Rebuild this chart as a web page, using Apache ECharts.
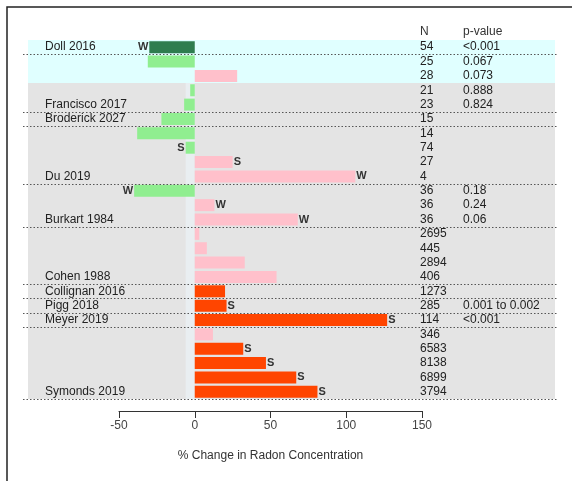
<!DOCTYPE html>
<html>
<head>
<meta charset="utf-8">
<script src="https://cdn.jsdelivr.net/npm/echarts@6/dist/echarts.min.js"></script>
<style>html,body{margin:0;padding:0;background:#fff}#c{width:572px;height:481px}</style>
</head>
<body>
<div id="c"></div>
<script>
// ---- data ----
const studies = ['Doll 2016','','','','Francisco 2017','Broderick 2027','','','','Du 2019','','','Burkart 1984','','','','Cohen 1988','Collignan 2016','Pigg 2018','Meyer 2019','','','','','Symonds 2019'];
const nValues = ['54','25','28','21','23','15','14','74','27','4','36','36','36','2695','445','2894','406','1273','285','114','346','6583','8138','6899','3794'];
const pValues = ['<0.001','0.067','0.073','0.888','0.824','','','','','','0.18','0.24','0.06','','','','','','0.001 to 0.002','<0.001','','','','',''];
const changes = [-30,-31,28,-3,-7,-22,-38,-6,25,106,-40,13,68,3,8,33,54,20,21,127,12,32,47,67,81];
const markers = ['W','','','','','','','S','S','W','W','W','W','','','','','','S','S','','S','S','S','S'];
const effect  = ['sigDec','dec','inc','dec','dec','dec','dec','dec','inc','inc','dec','inc','inc','inc','inc','inc','inc','sigInc','sigInc','sigInc','inc','sigInc','sigInc','sigInc','sigInc'];
const xTicks = {min:-50, max:150, interval:50};
const highlightRowCount = 3; // first study block (cyan band)

// ---- styling ----
const colorMap = {sigDec:'#2e7d4f', dec:'#90ee90', inc:'#ffc0cb', sigInc:'#ff4500'};
const FONT = 'Liberation Sans, Arial, sans-serif';
const gridL = 28, gridR = 555, axisL = 119, axisR = 422, gridTop = 40, rowH = 14.36;
const k = (axisR - axisL) / (xTicks.max - xTicks.min);
const fullMin = xTicks.min - (axisL - gridL) / k;
const fullMax = xTicks.max + (gridR - axisR) / k;
const zeroPx = axisL + (0 - xTicks.min) * k;
const nRows = studies.length;

// separator positions (below each labelled study row)
const boundaries = [];
studies.forEach((s, i) => { if (s) boundaries.push(i + 0.5); });

const chart = echarts.init(document.getElementById('c'), null, {renderer:'canvas'});
const catAxis = (data, offset, margin) => ({
  type:'category', gridIndex:0, data:data, inverse:true, position:'left', offset:offset, z:10,
  axisLine:{show:false}, axisTick:{show:false}, splitLine:{show:false},
  axisLabel:{inside:true, margin:margin, interval:0, fontSize:12, color:'#222', fontFamily:FONT, align:'left'}
});
const hidden = (gi) => ({type:'value', gridIndex:gi, show:false, min:0, max:1});

chart.setOption({
  animation:false,
  textStyle:{fontFamily:FONT},
  grid:[
    {left:gridL, width:gridR-gridL, top:gridTop, height:rowH*nRows, show:true, backgroundColor:'#e4e4e4', borderWidth:0},
    {left:axisL, width:axisR-axisL, top:410, height:1, show:false},
    {left:gridL, width:gridR-gridL, top:gridTop, height:rowH*highlightRowCount, show:true, backgroundColor:'#e0ffff', borderWidth:0},
    {left:zeroPx-9, width:9, top:gridTop+rowH*highlightRowCount, height:rowH*(nRows-highlightRowCount), show:true, backgroundColor:'#e9eef1', borderWidth:0}
  ],
  xAxis:[
    {type:'value', gridIndex:0, min:fullMin, max:fullMax, show:false},
    {type:'value', gridIndex:1, min:xTicks.min, max:xTicks.max, interval:xTicks.interval,
     axisLine:{show:true, lineStyle:{color:'#333', width:1}},
     axisTick:{show:true, length:7, lineStyle:{color:'#333'}},
     axisLabel:{fontSize:12, color:'#444', margin:9, fontFamily:FONT},
     splitLine:{show:false},
     name:'% Change in Radon Concentration', nameLocation:'middle', nameGap:39,
     nameTextStyle:{fontSize:12, color:'#333', fontFamily:FONT}},
    hidden(2), hidden(3)
  ],
  yAxis:[
    catAxis(studies, 0, 17),
    catAxis(nValues, -(420-gridL), 0),
    catAxis(pValues, -(463-gridL), 0),
    hidden(1), hidden(2), hidden(3),
    {type:'value', gridIndex:0, min:-0.5, max:nRows-0.5, inverse:true, show:false}
  ],
  series:[
    {
      type:'bar', xAxisIndex:0, yAxisIndex:0, z:2, barWidth:12,
      data:changes.map((v,i)=>({value:v, label:{position: v<0 ? 'left' : 'right'}})),
      itemStyle:{color:p=>colorMap[effect[p.dataIndex]]},
      label:{show:true, distance:1, formatter:p=>markers[p.dataIndex], fontSize:11, fontWeight:'bold', color:'#333', fontFamily:FONT}
    },
    {
      type:'custom', xAxisIndex:0, yAxisIndex:6, z:20, silent:true, clip:false,
      encode:{x:0, y:1},
      data:boundaries.map(b=>[0, b]),
      renderItem:(params, api)=>{
        const cs = params.coordSys;
        const y = Math.round(api.coord([0, api.value(1)])[1]) + 0.5;
        return {type:'line', shape:{x1:cs.x - 5, y1:y, x2:cs.x + cs.width + 2, y2:y},
                style:{stroke:'#555', lineWidth:1, lineDash:[1.5, 2]}};
      }
    }
  ],
  graphic:[
    {type:'polyline', shape:{points:[[7,481],[7,7],[572,7]]}, style:{stroke:'#222', lineWidth:1.5, fill:null}},
    {type:'text', left:420, top:26, style:{text:'N', fontSize:12, fill:'#333', fontFamily:FONT}},
    {type:'text', left:463, top:26, style:{text:'p-value', fontSize:12, fill:'#333', fontFamily:FONT}}
  ]
});
</script>
</body>
</html>
